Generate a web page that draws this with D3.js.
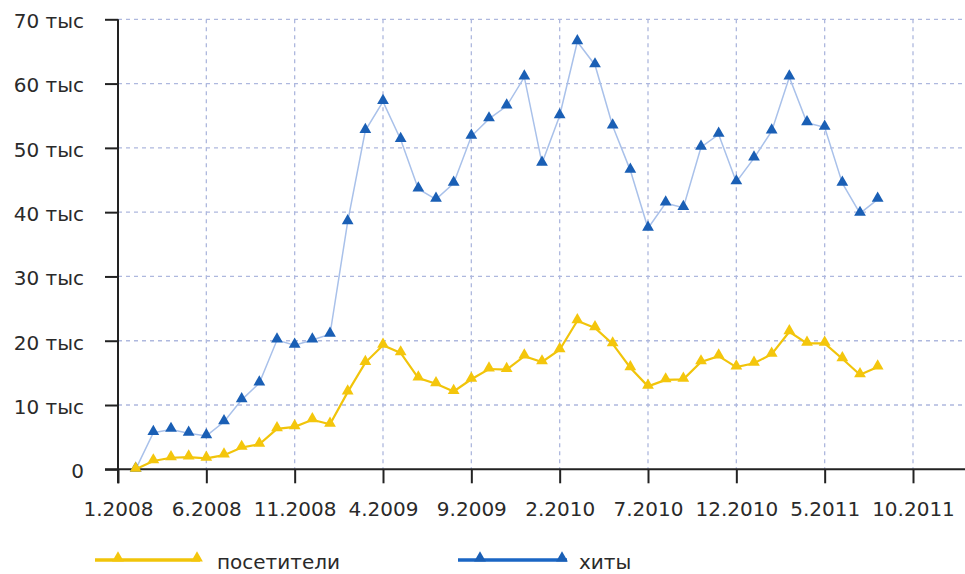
<!DOCTYPE html>
<html>
<head>
<meta charset="utf-8">
<script src="https://cdn.jsdelivr.net/npm/d3@7"></script>
<style>
  body { margin: 0; background: #fff; }
  svg { display: block; font-family: "DejaVu Sans", Verdana, sans-serif; }
</style>
</head>
<body>
<svg id="chart" width="965" height="574"></svg>
<script>
// month index 0 = 1.2008; data starts at 2.2008
const firstMonth = 1;
const visitors = [0, 1.3, 1.8, 1.9, 1.7, 2.2, 3.4, 3.9, 6.3, 6.6, 7.7, 7.0, 12.0, 16.6, 19.3, 18.1, 14.2, 13.3, 12.1, 14.0,
  15.6, 15.5, 17.6, 16.7, 18.6, 23.1, 22.0, 19.5, 15.8, 12.9, 13.9, 14.0, 16.7, 17.6, 15.9, 16.5, 17.9, 21.4, 19.6, 19.6,
  17.2, 14.7, 15.9];
const hits = [0, 5.7, 6.2, 5.6, 5.2, 7.4, 10.8, 13.4, 20.1, 19.3, 20.1, 21.0, 38.5, 52.7, 57.2, 51.3, 43.6, 42.0, 44.5, 51.8,
  54.5, 56.5, 61.0, 47.6, 55.0, 66.5, 62.9, 53.4, 46.5, 37.5, 41.4, 40.7, 50.1, 52.1, 44.7, 48.4, 52.6, 61.0, 53.9, 53.2,
  44.5, 39.8, 42.0];
const xTickMonths = [0, 5, 10, 15, 20, 25, 30, 35, 40, 45];
const xTickLabels = ["1.2008", "6.2008", "11.2008", "4.2009", "9.2009", "2.2010", "7.2010", "12.2010", "5.2011", "10.2011"];
const yTicks = [0, 10, 20, 30, 40, 50, 60, 70];
const yTickLabels = ["0", "10 тыс", "20 тыс", "30 тыс", "40 тыс", "50 тыс", "60 тыс", "70 тыс"];
const seriesNames = ["посетители", "хиты"];

const svg = d3.select("#chart");
const plotLeft = 118, plotRight = 966, plotTop = 19.3, plotBottom = 469.3;

const x = d3.scaleLinear().domain([0, 48]).range([plotLeft, plotRight]);
const y = d3.scaleLinear().domain([0, 70]).range([plotBottom, plotTop]);

const gridColor = "#aeb8de";
const textColor = "#2a2a2a";

// grid
svg.append("g")
  .selectAll("line")
  .data(yTicks.slice(1))
  .join("line")
  .attr("x1", plotLeft).attr("x2", 965)
  .attr("y1", d => y(d)).attr("y2", d => y(d))
  .attr("stroke", gridColor).attr("stroke-width", 1.3)
  .attr("stroke-dasharray", "4,4");

svg.append("g")
  .selectAll("line")
  .data(xTickMonths.slice(1))
  .join("line")
  .attr("x1", d => x(d)).attr("x2", d => x(d))
  .attr("y1", plotTop).attr("y2", plotBottom)
  .attr("stroke", gridColor).attr("stroke-width", 1.3)
  .attr("stroke-dasharray", "4,4");

// axes
const yAxis = d3.axisLeft(y)
  .tickValues(yTicks)
  .tickSize(13)
  .tickPadding(21)
  .tickFormat((d, i) => yTickLabels[i]);

const xAxis = d3.axisBottom(x)
  .tickValues(xTickMonths)
  .tickSize(14)
  .tickPadding(15)
  .tickFormat((d, i) => xTickLabels[i]);

const gy = svg.append("g").attr("transform", `translate(${plotLeft},0)`).call(yAxis);
const gx = svg.append("g").attr("transform", `translate(0,${plotBottom})`).call(xAxis);

[gx, gy].forEach(g => {
  g.select(".domain").remove();
  g.selectAll(".tick line").attr("stroke", "#222").attr("stroke-width", 2);
  g.selectAll(".tick text").attr("fill", textColor).style("font-size", "20px")
    .style("font-family", "'DejaVu Sans', Verdana, sans-serif");
});
gy.selectAll(".tick text").attr("dy", "0.42em");
gx.selectAll(".tick text").attr("dy", "0.9em");

// axis lines
svg.append("line").attr("x1", plotLeft).attr("x2", plotLeft).attr("y1", plotTop).attr("y2", plotBottom + 14)
  .attr("stroke", "#222").attr("stroke-width", 2);
svg.append("line").attr("x1", 105).attr("x2", 965).attr("y1", plotBottom).attr("y2", plotBottom)
  .attr("stroke", "#222").attr("stroke-width", 2);

const tri = d3.symbol().type(d3.symbolTriangle).size(60);

function drawSeries(values, lineColor, lineWidth, markColor) {
  const pts = values.map((v, i) => [x(firstMonth + i), y(v)]);
  svg.append("path")
    .datum(pts)
    .attr("d", d3.line())
    .attr("fill", "none")
    .attr("stroke", lineColor)
    .attr("stroke-width", lineWidth);
  svg.append("g")
    .selectAll("path")
    .data(pts)
    .join("path")
    .attr("transform", d => `translate(${d[0]},${d[1] - 1})`)
    .attr("d", tri)
    .attr("fill", markColor);
}

drawSeries(hits, "#a9c1ea", 1.5, "#1a5fb5");
drawSeries(visitors, "#f1c40a", 2.2, "#f4c60c");

// legend
const legend = [
  {name: seriesNames[0], x1: 95, x2: 200, m: [118, 197], line: "#f1c40a", mark: "#f4c60c", tx: 217},
  {name: seriesNames[1], x1: 458, x2: 567, m: [480, 562], line: "#1a66c4", mark: "#1a5fb5", tx: 579}
];
const ly = 560;
legend.forEach(l => {
  svg.append("line").attr("x1", l.x1).attr("x2", l.x2).attr("y1", ly).attr("y2", ly)
    .attr("stroke", l.line).attr("stroke-width", 3.5);
  l.m.forEach(mx => svg.append("path").attr("transform", `translate(${mx},${ly - 2})`).attr("d", tri).attr("fill", l.mark));
  svg.append("text").attr("x", l.tx).attr("y", 569).text(l.name)
    .attr("fill", textColor).style("font-size", "20px");
});
</script>
</body>
</html>
